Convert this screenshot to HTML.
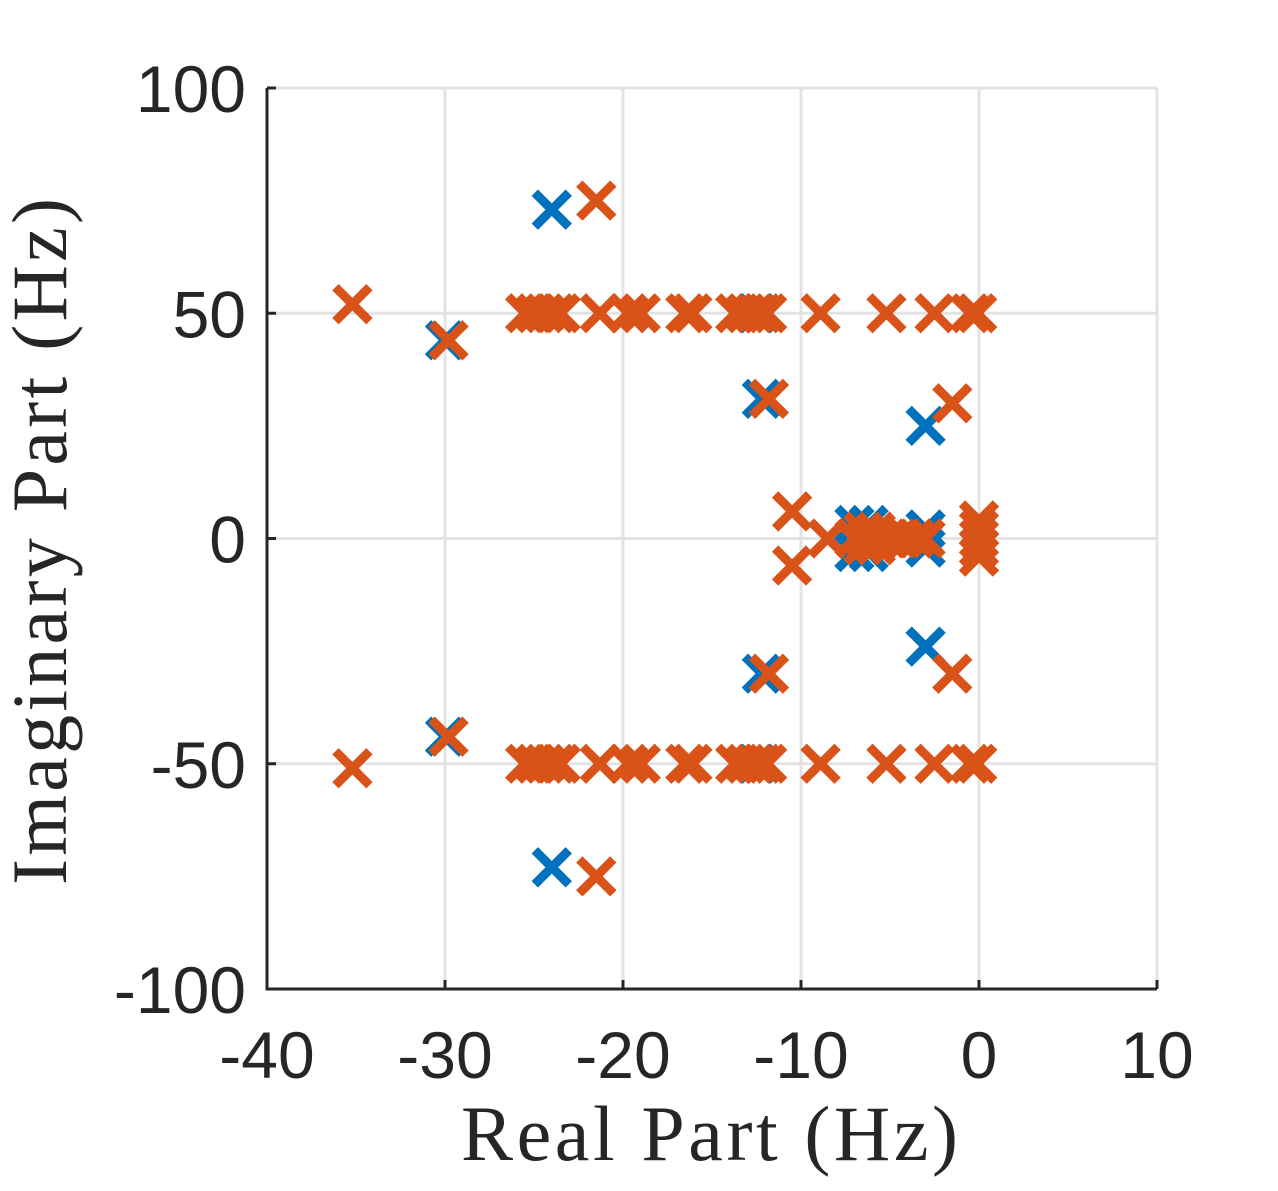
<!DOCTYPE html>
<html><head><meta charset="utf-8"><style>
html,body{margin:0;padding:0;background:#fff;}
svg{display:block;}
.tk{font-family:"Liberation Sans",sans-serif;font-size:66px;fill:#262626;}
.tt{font-family:"Liberation Serif",serif;font-size:78px;fill:#262626;letter-spacing:3px;}
</style></head><body>
<svg id="chart" width="1278" height="1191" viewBox="0 0 1278 1191" xmlns="http://www.w3.org/2000/svg">
<g id="grid"></g>
<g id="marks"></g>
<g id="axes"></g>
<text class="tt" x="711" y="1160" text-anchor="middle" textLength="500">Real Part (Hz)</text>
<text class="tt" transform="translate(66,540) rotate(-90)" text-anchor="middle" textLength="690">Imaginary Part (Hz)</text>
</svg>
<script>
const xTicks=[-40,-30,-20,-10,0,10];
const yTicks=[-100,-50,0,50,100];
const rowX=[-25.5,-24.9,-24.4,-23.8,-23.5,-21.3,-19.7,-19.0,-16.5,-16.1,-13.7,-13.1,-12.6,-12.2,-11.9,-8.9,-5.2,-2.5,-0.5,-0.1];
const blueX=[-24,-30,-12.2,-3,-24,-30,-12.2,-3,-7,-6.2,-7,-6.2,-3,-3,-12.5,-12.5];
const blueY=[73,44,31,25,-73,-44,-30,-24,3,3,-3,-3,2,-2,50,-50];
const orangeX=[-21.5,-35.2,-29.8,-11.8,-1.5,-10.5,-10.5,-8.5,-7,-6.3,-5.6,-5,-4.3,-3.6,-3,-6.5,-5.8,-6.5,-5.8,0,0,0,0,0,-11.8,-1.5,-29.8,-35.2,-21.5];
const orangeY=[75,52,44,31,30,6,-6,0,0,0,0,0,0,0,0,1.5,1.5,-1.5,-1.5,4,2,0,-2,-4,-30,-30,-44,-51,-75];
const NS='http://www.w3.org/2000/svg';
const X0=267,X1=1157,Y0=989,Y1=88;
const sx=v=>X0+(v-(-40))/(50)*(X1-X0);
const sy=v=>Y0-(v-(-100))/200*(Y0-Y1);
function mk(tag,attrs,parent){const e=document.createElementNS(NS,tag);for(const k in attrs)e.setAttribute(k,attrs[k]);parent.appendChild(e);return e;}
const grid=document.getElementById('grid'),marks=document.getElementById('marks'),axes=document.getElementById('axes');
xTicks.forEach(t=>{const l=mk('line',{x1:sx(t),x2:sx(t),y1:Y1,y2:Y0,stroke:'#e3e3e3','stroke-width':3},grid);


const tk=mk('line',{x1:sx(t),x2:sx(t),y1:Y0,y2:Y0-9,stroke:'#262626','stroke-width':3},axes);


const tx=mk('text',{x:sx(t),y:1078,'text-anchor':'middle',class:'tk'},axes);tx.textContent=t;

});
yTicks.forEach(t=>{const l=mk('line',{x1:X0,x2:X1,y1:sy(t),y2:sy(t),stroke:'#e3e3e3','stroke-width':3},grid);


const tk=mk('line',{x1:X0,x2:X0+9,y1:sy(t),y2:sy(t),stroke:'#262626','stroke-width':3},axes);


const tx=mk('text',{x:246,y:sy(t)+24,'text-anchor':'end',class:'tk'},axes);tx.textContent=t;

});
const box=mk('path',{d:`M${X0},${Y1}L${X0},${Y0}L${X1},${Y0}`,fill:'none',stroke:'#262626','stroke-width':3},axes);


function cross(x,y,c,name){const px=sx(x),py=sy(y),h=17;
const p=mk('path',{d:`M${px-h},${py-h}L${px+h},${py+h}M${px-h},${py+h}L${px+h},${py-h}`,stroke:c,'stroke-width':9,fill:'none'},marks);

}
blueX.forEach((x,i)=>cross(x,blueY[i],'#0072BD','pole-blue'));
rowX.forEach(x=>{cross(x,50,'#D95319','pole-orange');cross(x,-50,'#D95319','pole-orange');});
orangeX.forEach((x,i)=>cross(x,orangeY[i],'#D95319','pole-orange'));
</script>
</body></html>
